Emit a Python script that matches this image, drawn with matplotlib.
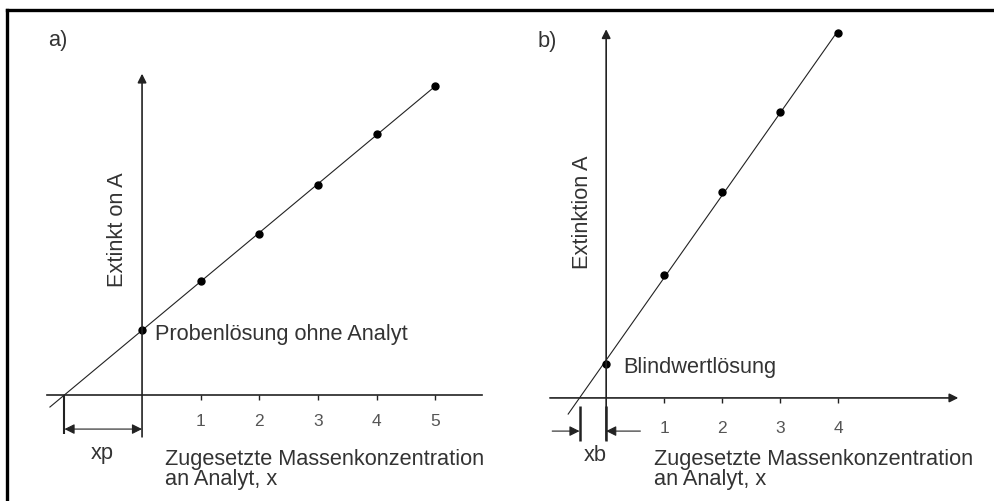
import matplotlib.pyplot as plt
import numpy as np
from matplotlib.lines import Line2D

plt.rcParams['font.family'] = ['Liberation Sans', 'DejaVu Sans']

# Standard addition (a) and calibration with blank (b)
conc_a = [0, 1, 2, 3, 4, 5]
ext_a = [1.33, 2.34, 3.30, 4.30, 5.35, 6.33]
conc_b = [0, 1, 2, 3, 4]
ext_b = [0.70, 2.52, 4.22, 5.86, 7.48]
ticks_a = [1, 2, 3, 4, 5]
ticks_b = [1, 2, 3, 4]

ink = '#222222'
txt = '#333333'
fs = 15.7

fig = plt.figure(figsize=(9.95, 5.02), dpi=100)

# frame (only top and left edges are visible in the cropped original)
fy = 1 - 11 / 502
fx = 7 / 995
fig.add_artist(Line2D([fx, 1], [fy, fy], transform=fig.transFigure, lw=2.4, color='black'))
fig.add_artist(Line2D([fx, fx], [0, fy], transform=fig.transFigure, lw=2.4, color='black'))


def arrow(ax, x0, y0, x1, y1, lw=1.2, ms=13):
    ax.annotate('', xy=(x1, y1), xytext=(x0, y0),
                arrowprops=dict(arrowstyle='-|>', lw=lw, color=ink,
                                mutation_scale=ms, shrinkA=0, shrinkB=0))


def panel(rect, xlim, ylim, conc, ext, ticks, x_start, xaxis_end, yaxis_top, xaxis_arrow, tick_y):
    ax = fig.add_axes(rect)
    ax.set_xlim(*xlim)
    ax.set_ylim(*ylim)
    ax.axis('off')

    slope, icpt = np.polyfit(conc, ext, 1)
    x0 = -icpt / slope

    # axes
    if xaxis_arrow:
        arrow(ax, xaxis_end[0], 0, xaxis_end[1], 0)
    else:
        ax.plot(xaxis_end, [0, 0], color=ink, lw=1.2)
    arrow(ax, 0, -0.86, 0, yaxis_top)
    ax.vlines(ticks, -0.1, 0, color=ink, lw=1)

    # calibration line and points
    xs = np.array([x_start, conc[-1]])
    ax.plot(xs, slope * xs + icpt, color=ink, lw=0.8)
    ax.plot(conc, ext, 'o', color='black', ms=5)

    for t in ticks:
        ax.text(t, tick_y, str(t), ha='center', va='center', fontsize=12.5, color='#555555')
    return ax, x0


# ---- panel a
ax_a, xp = panel([20 / 995, 7 / 502, 470 / 995, 475 / 502], (-2.08, 5.93), (-2.03, 7.70),
                 conc_a, ext_a, ticks_a, -1.57, (-1.62, 5.79), 6.58, False, -0.53)
ax_a.vlines(xp, -0.80, 0, color=ink, lw=1.5)
ax_a.annotate('', xy=(xp, -0.70), xytext=(0, -0.70),
              arrowprops=dict(arrowstyle='<|-|>', lw=0.8, color=ink, mutation_scale=15,
                              shrinkA=0, shrinkB=0))
ax_a.text(-1.60, 7.27, 'a)', ha='left', va='center', fontsize=fs, color=txt)
ax_a.text(-0.41, 3.40, 'Extinkt on A', rotation=90, ha='center', va='center',
          fontsize=fs, color=txt)
ax_a.text(0.22, 1.25, 'Probenlösung ohne Analyt', ha='left', va='center', fontsize=fs,
          color=txt)
ax_a.text(-0.68, -1.17, 'xp', ha='center', va='center', fontsize=fs, color=txt)
ax_a.text(0.39, -1.31, 'Zugesetzte Massenkonzentration', ha='left', va='center',
          fontsize=fs, color=txt)
ax_a.text(0.39, -1.72, 'an Analyt, x', ha='left', va='center', fontsize=fs, color=txt)

# ---- panel b
ax_b, xb = panel([500 / 995, 7 / 502, 485 / 995, 475 / 502], (-1.83, 6.53), (-1.97, 7.77),
                 conc_b, ext_b, ticks_b, -0.655, (-0.97, 6.07), 7.56, True, -0.61)
ax_b.vlines(xb, -0.88, -0.16, color=ink, lw=1.8)
ax_b.vlines(0, -0.88, -0.16, color=ink, lw=1.8)
arrow(ax_b, -0.93, -0.68, xb, -0.68, lw=0.8, ms=15)
arrow(ax_b, 0.59, -0.68, 0, -0.68, lw=0.8, ms=15)
ax_b.text(-1.02, 7.32, 'b)', ha='center', va='center', fontsize=fs, color=txt)
ax_b.text(-0.40, 3.83, 'Extinktion A', rotation=90, ha='center', va='center',
          fontsize=fs, color=txt)
ax_b.text(0.29, 0.64, 'Blindwertlösung', ha='left', va='center', fontsize=fs, color=txt)
ax_b.text(-0.19, -1.15, 'xb', ha='center', va='center', fontsize=fs, color=txt)
ax_b.text(0.83, -1.25, 'Zugesetzte Massenkonzentration', ha='left', va='center',
          fontsize=fs, color=txt)
ax_b.text(0.83, -1.66, 'an Analyt, x', ha='left', va='center', fontsize=fs, color=txt)

fig.savefig('out.png', dpi=100)
